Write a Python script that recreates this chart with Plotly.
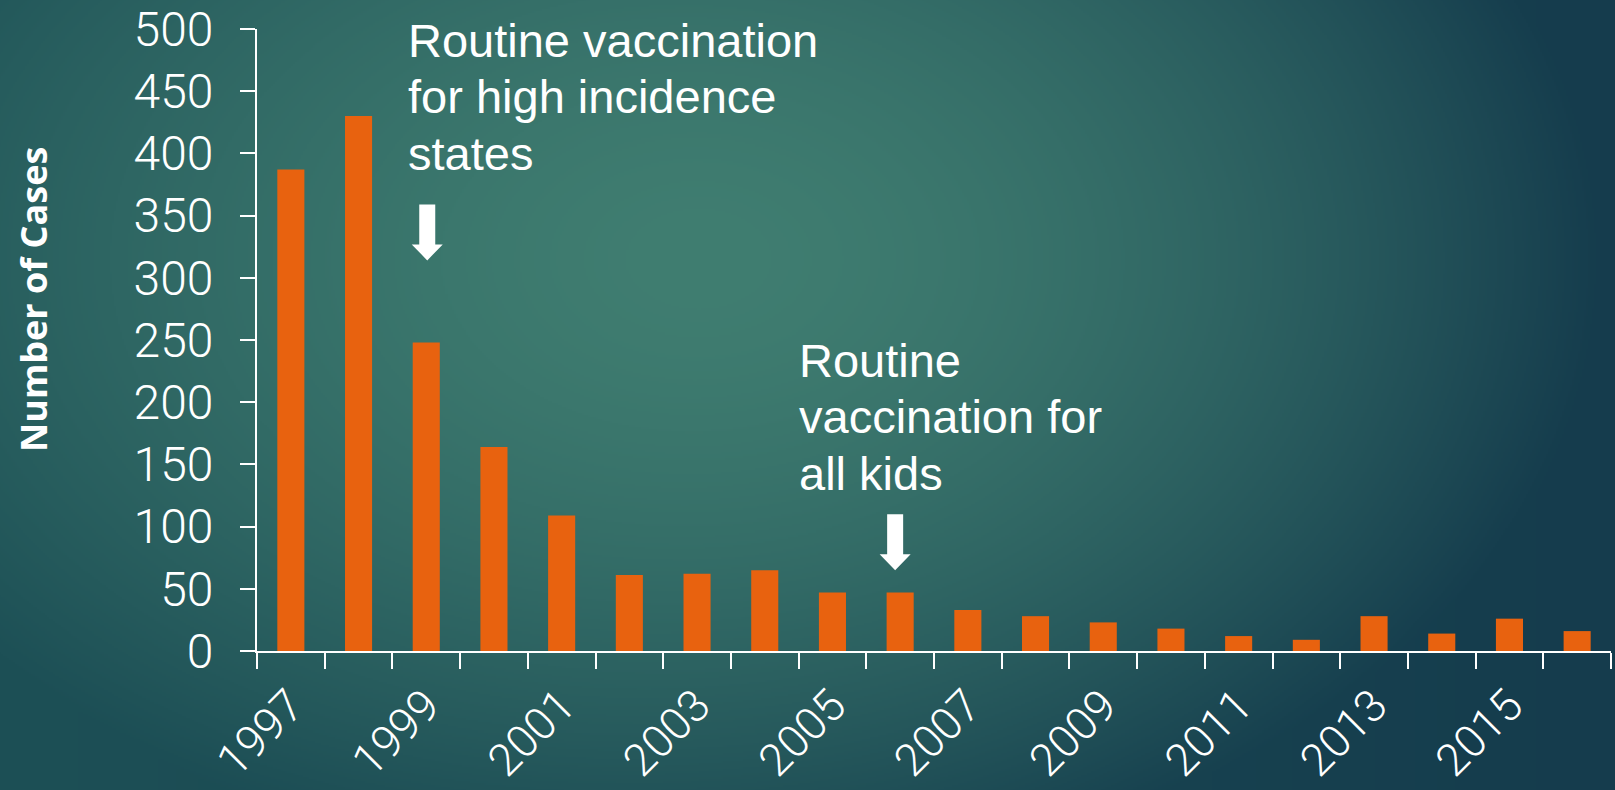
import base64
import struct
import zlib

import numpy as np
import plotly.graph_objects as go

# ---- data -------------------------------------------------------------
years = [str(y) for y in range(1997, 2017)]
cases = [387, 430, 248, 164, 109, 61, 62, 65, 47, 47,
         33, 28, 23, 18, 12, 9, 28, 14, 26, 16]
tick_labels = [y if int(y) % 2 == 1 else "" for y in years]

y_ticks = list(range(0, 501, 50))

note_states = ["Routine vaccination", "for high incidence", "states"]
note_all = ["Routine", "vaccination for", "all kids"]

# ---- figure geometry ---------------------------------------------------
W, H = 1615, 790
ML, MR, MT, MB = 257, 4, 29, 139
PW, PH = W - ML - MR, H - MT - MB

BAR = "#E8620F"
WHITE = "#FFFFFF"


def px_x(x):
    """Figure pixel x -> paper coordinate."""
    return (x - ML) / PW


def px_y(y):
    """Figure pixel y (from top) -> paper coordinate."""
    return (H - MB - y) / PH


def png_uri(rgb):
    h, w, _ = rgb.shape
    raw = b"".join(b"\x00" + rgb[r].tobytes() for r in range(h))

    def chunk(tag, data):
        return (struct.pack(">I", len(data)) + tag + data
                + struct.pack(">I", zlib.crc32(tag + data) & 0xFFFFFFFF))

    png = (b"\x89PNG\r\n\x1a\n"
           + chunk(b"IHDR", struct.pack(">IIBBBBB", w, h, 8, 2, 0, 0, 0))
           + chunk(b"IDAT", zlib.compress(raw, 9))
           + chunk(b"IEND", b""))
    return "data:image/png;base64," + base64.b64encode(png).decode()


# teal radial backdrop, brightest a little left of centre and toward the top
gw, gh = W // 2, H // 2
gx, gy = np.meshgrid(np.linspace(0, W, gw), np.linspace(0, H, gh))
cx, cy, rx, ry = 700.0, 260.0, 900.0, 620.0
t = np.clip(np.sqrt(((gx - cx) / rx) ** 2 + ((gy - cy) / ry) ** 2), 0, 1) ** 1.6
centre = np.array([64, 126, 113], dtype=float)
edge_l = np.array([29, 80, 86], dtype=float)
edge_r = np.array([21, 60, 77], dtype=float)
u = (gx / W)[..., None]
edge = edge_l * (1 - u) + edge_r * u
rgb = centre * (1 - t[..., None]) + edge * t[..., None]
backdrop = png_uri(np.clip(rgb, 0, 255).astype(np.uint8))

fig = go.Figure(
    go.Bar(
        x=years,
        y=cases,
        marker=dict(color=BAR, line=dict(width=0)),
        width=0.4,
        hoverinfo="x+y",
    )
)

BLEED = 4  # extra pixels so the backdrop covers the page edges
fig.update_layout(
    width=W,
    height=H,
    margin=dict(l=ML, r=MR, t=MT, b=MB, pad=0, autoexpand=False),
    paper_bgcolor="#1f5058",
    plot_bgcolor="rgba(0,0,0,0)",
    showlegend=False,
    images=[dict(
        source=backdrop,
        xref="paper", yref="paper",
        x=-(ML + BLEED) / PW, y=1 + (MT + BLEED) / PH,
        sizex=(W + 2 * BLEED) / PW, sizey=(H + 2 * BLEED) / PH,
        xanchor="left", yanchor="top",
        sizing="stretch", layer="below",
    )],
)

fig.update_xaxes(
    type="category",
    range=[-0.5, len(years) - 0.5],
    automargin=False,
    tickmode="array",
    tickvals=years,
    ticktext=tick_labels,
    tickson="boundaries",
    ticks="outside",
    ticklen=16,
    tickwidth=2,
    tickcolor=WHITE,
    tickangle=-45,
    ticklabelstandoff=8,
    tickfont=dict(family="Roboto", size=45, color=WHITE, weight=300),
    showline=True,
    linecolor=WHITE,
    linewidth=2,
    showgrid=False,
    zeroline=False,
)

fig.update_yaxes(
    range=[0, 500],
    automargin=False,
    tickmode="array",
    tickvals=y_ticks,
    ticks="outside",
    ticklen=15,
    tickwidth=2,
    tickcolor=WHITE,
    ticklabelstandoff=17,
    tickfont=dict(family="Roboto", size=48, color=WHITE, weight=300),
    showline=True,
    linecolor=WHITE,
    linewidth=2,
    showgrid=False,
    zeroline=False,
)

# axis title, placed freely beside the tick labels
fig.add_annotation(
    text="<b>Number of Cases</b>",
    xref="paper", yref="paper",
    x=px_x(33), y=px_y(300),
    xanchor="center", yanchor="middle",
    textangle=-90,
    showarrow=False,
    font=dict(family="Open Sans", size=36, color=WHITE),
)

# milestone notes, one annotation per line for tight leading
note_font = dict(family="Liberation Sans", size=47, color=WHITE)
LEADING = 56.5
for lines, left, first_mid in [(note_states, 406, 40), (note_all, 797, 360)]:
    for i, line in enumerate(lines):
        fig.add_annotation(
            text=line, xref="paper", yref="paper",
            x=px_x(left), y=px_y(first_mid + i * LEADING),
            xanchor="left", yanchor="middle",
            align="left", showarrow=False, font=note_font,
        )

# block arrows pointing at the 1999 and 2006 bars (pixel path, tip at origin)
ARROW_PTS = [(-8, 56), (8, 56), (8, 16), (15.5, 16), (0, 0), (-15.5, 16), (-8, 16)]
for year, tip, shift in [("1999", 314, 1), ("2006", 65, -5)]:
    path = "M " + " L ".join(f"{x + shift:g} {y:g}" for x, y in ARROW_PTS) + " Z"
    fig.add_shape(
        type="path",
        xref="x", yref="y",
        xsizemode="pixel", ysizemode="pixel",
        xanchor=years.index(year), yanchor=tip,
        path=path,
        fillcolor=WHITE,
        line=dict(width=0),
        layer="above",
    )

fig.write_html("out.html")
